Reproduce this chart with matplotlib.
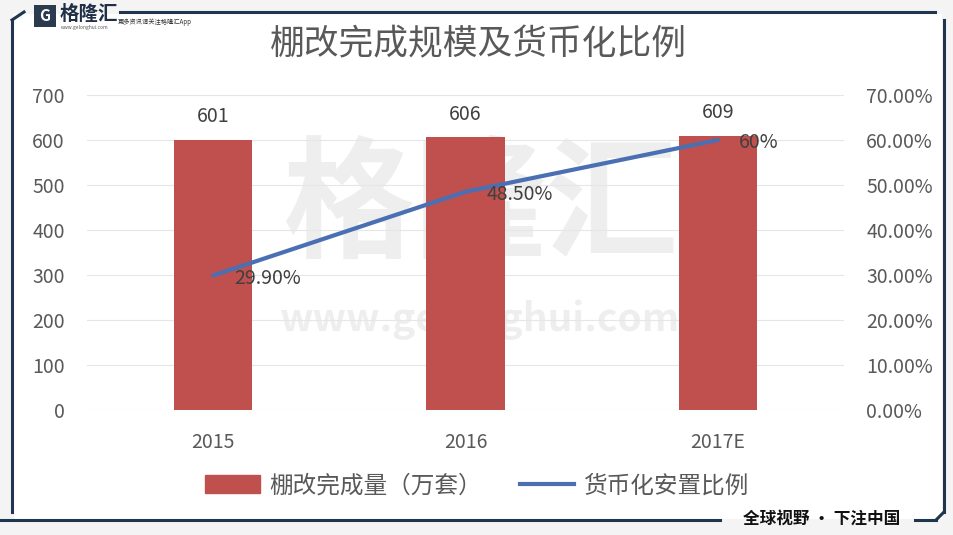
import matplotlib
matplotlib.use("Agg")
import matplotlib.pyplot as plt
from matplotlib.patches import Rectangle
from matplotlib.lines import Line2D

plt.rcParams['font.family'] = ['Noto Sans CJK SC', 'DejaVu Sans']

categories = ["2015", "2016", "2017E"]
volumes = [601, 606, 609]
ratios = [29.90, 48.50, 60.0]
ratio_labels = ["29.90%", "48.50%", "60%"]
left_ticks = [0, 100, 200, 300, 400, 500, 600, 700]
right_ticks = [0, 10, 20, 30, 40, 50, 60, 70]

title = "棚改完成规模及货币化比例"
bar_name = "棚改完成量（万套）"
line_name = "货币化安置比例"

bar_color = "#c0504d"
line_color = "#4a6fb3"
text_color = "#595959"

fig = plt.figure(figsize=(9.54, 5.35), dpi=100)
fig.patch.set_facecolor("#f4f4f4")

# background, frame, logo and watermark
bg = fig.add_axes([0, 0, 1, 1])
bg.set_xlim(0, 954)
bg.set_ylim(535, 0)
bg.axis("off")
bg.add_patch(Rectangle((14, 14), 928, 505, facecolor="white", edgecolor="none", zorder=0))
frame_c = "#1f3550"
bg.plot([120, 935], [12, 12], color=frame_c, lw=2.2, zorder=1)
bg.plot([944, 944], [20, 512], color=frame_c, lw=2.2, zorder=1)
bg.plot([12, 12], [20, 512], color=frame_c, lw=2.2, zorder=1)
bg.plot([12, 24], [20, 12], color=frame_c, lw=2.2, zorder=1)
bg.plot([0, 720], [520, 520], color=frame_c, lw=2.2, zorder=1)
bg.plot([915, 936], [520, 520], color=frame_c, lw=2.2, zorder=1)
bg.plot([936, 944], [520, 512], color=frame_c, lw=2.2, zorder=1)
bg.add_patch(Rectangle((34, 5), 22, 22, facecolor="#2b3a4e", edgecolor="none", zorder=2))
bg.text(45, 16, "G", color="white", fontsize=11, fontweight="bold", ha="center", va="center", zorder=3)
bg.text(60, 14, "格隆汇", color="#1f2f45", fontsize=14, fontweight="bold", ha="left", va="center", zorder=3)
bg.text(61, 27, "www.gelonghui.com", color="#555555", fontsize=3.5, ha="left", va="center", zorder=3)
bg.text(118, 22, "更多资讯请关注格隆汇App", color="#333333", fontsize=4.5, ha="left", va="center", zorder=3)
bg.text(822, 520, "全球视野 • 下注中国", color="#111111", fontsize=12, fontweight="bold",
        ha="center", va="center", zorder=3)
bg.text(480, 208, "格隆汇", color="#9a9a9a", alpha=0.16, fontsize=95, fontweight="bold",
        ha="center", va="center", zorder=1)
bg.text(480, 320, "www.gelonghui.com", color="#9a9a9a", alpha=0.16, fontsize=28, fontweight="bold",
        ha="center", va="center", zorder=1)

bg.text(478, 45, title, color=text_color, fontsize=25, ha="center", va="center", zorder=3)

ax = fig.add_axes([0.0912, 0.2336, 0.7935, 0.5888])
ax.patch.set_alpha(0)
x = list(range(len(categories)))
ax.bar(x, volumes, width=0.31, color=bar_color, zorder=3, label=bar_name)
ax.set_xlim(-0.5, len(categories) - 0.5)
ax.set_ylim(0, 700)
ax.set_yticks(left_ticks)
ax.set_yticklabels([str(v) for v in left_ticks])
ax.set_xticks(x)
ax.set_xticklabels(categories)
ax.grid(axis="y", color="#e6e6e6", lw=0.8, zorder=0)
for s in ax.spines.values():
    s.set_visible(False)
ax.tick_params(length=0, labelsize=14, colors=text_color)
ax.tick_params(axis="x", pad=16)
ax.tick_params(axis="y", pad=16)
for xi, v in zip(x, volumes):
    ax.text(xi, v + 28, str(v), ha="center", va="bottom", fontsize=14, color="#404040", zorder=5)

ax2 = ax.twinx()
ax2.patch.set_alpha(0)
ax2.plot(x, ratios, color=line_color, lw=3, zorder=4, solid_capstyle="round")
ax2.set_ylim(0, 70)
ax2.set_yticks(right_ticks)
ax2.set_yticklabels([f"{v:.2f}%" for v in right_ticks])
for s in ax2.spines.values():
    s.set_visible(False)
ax2.tick_params(length=0, labelsize=14, colors=text_color, pad=16)
for xi, v, lab in zip(x, ratios, ratio_labels):
    ax2.text(xi + 0.085, v - 0.6, lab, ha="left", va="center", fontsize=14, color="#404040", zorder=6)

handles = [Rectangle((0, 0), 1, 1, color=bar_color),
           Line2D([0], [0], color=line_color, lw=3)]
fig.legend(handles, [bar_name, line_name], loc="center", bbox_to_anchor=(0.5, 0.092),
           ncol=2, frameon=False, fontsize=17, handlelength=2.3, handleheight=0.75,
           handletextpad=0.4, columnspacing=1.6, labelcolor=text_color)

fig.savefig("out.png", dpi=100, facecolor=fig.get_facecolor())
